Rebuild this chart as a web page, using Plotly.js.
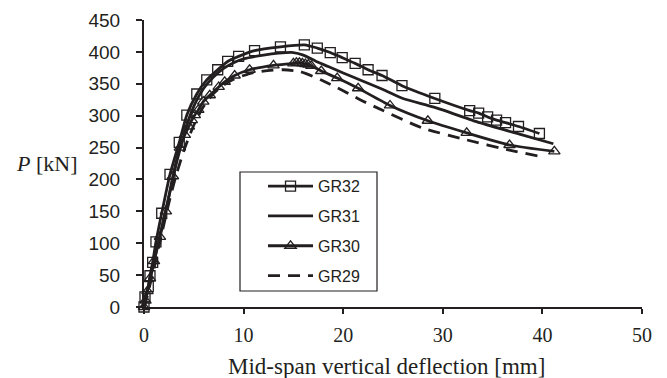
<!DOCTYPE html>
<html><head><meta charset="utf-8">
<script src="https://cdn.plot.ly/plotly-3.0.1.min.js"></script>
<style>html,body{margin:0;padding:0;background:#fff;}#chart{width:667px;height:378px;}</style>
</head><body><div id="chart"></div>
<script>
// Mid-span vertical deflection [mm] and load P [kN]
const gr32_x = [0,0.1,0.43,0.6,0.87,1.2,1.78,2.61,3.54,4.3,5.3,6.3,7.4,8.4,9.5,11.1,13.7,16.1,17.4,18.7,19.9,21.2,22.5,23.9,25.9,29.2,32.7,33.6,34.5,35.4,36.3,37.6,39.7];
const gr32_y = [0,16,32,49,70,102,147,208,258,301,334,356,372,385,393,402,408,411,406,399,391,382,372,363,347,327,308,304,298,293,289,283,272];

const gr31_x = [0,0.5,1,1.5,2,2.6,3.2,3.7,4.4,5.1,6,7,8,9,10,12,13.5,15,16,17.3,18.5,20,21.7,24,26,29.2,33.7,37.7,41.1];
const gr31_y = [0,35,70,105,140,180,222,252,290,318,343,361,374,383,389,395,398,399,395,385,377,367,356,341,327,313,289,271,256];

const gr30_x = [0,0.15,0.35,0.6,1.0,1.6,2.2,2.9,3.6,4.1,4.5,4.8,5.1,5.45,5.95,6.6,7.5,8.1,9.1,10.6,13,15.0,15.3,15.6,15.9,16.2,16.5,16.8,17.8,19.4,21.5,24.7,28.5,32.4,36.7,41.2];
const gr30_y = [0,10,25,45,72,110,150,205,250,270,283,293,301,309,322,332,345,353,363,372,379,382,383,383,382,381,380,378,370,359,343,316,292,273,254,244];

const gr29_x = [0,0.3,0.6,1,1.5,2,2.6,3.2,4,5,6,7,8,9,10.6,12,14,15.7,17.8,19.9,21.7,24,27.9,32.4,36.7,39.5];
const gr29_y = [0,15,35,60,95,130,170,205,245,285,315,335,348,357,366,370,372,369,356,340,325,308,281,262,246,237];

const seriesNames = ['GR32','GR31','GR30','GR29'];

const ink = '#231f20';
const lineW = 2.8;

const traces = [
  {x: gr32_x, y: gr32_y, name: seriesNames[0], legendgroup:'a', mode:'lines+markers',
   line:{color:ink,width:lineW,shape:'spline',smoothing:0.6},
   marker:{symbol:'square-open',size:10,color:ink,line:{width:1.3,color:ink}}, cliponaxis:false},
  {x: gr31_x, y: gr31_y, name: seriesNames[1], legendgroup:'b', mode:'lines',
   line:{color:ink,width:lineW,shape:'spline',smoothing:0.6}, cliponaxis:false},
  {x: gr30_x, y: gr30_y, name: seriesNames[2], legendgroup:'c', mode:'lines+markers',
   line:{color:ink,width:lineW,shape:'spline',smoothing:0.6},
   marker:{symbol:'triangle-up-open',size:10,color:ink,line:{width:1.3,color:ink}}, cliponaxis:false},
  {x: gr29_x, y: gr29_y, name: seriesNames[3], legendgroup:'d', mode:'lines',
   line:{color:ink,width:lineW,shape:'spline',smoothing:0.6,dash:'12px,8px'}, cliponaxis:false}
];

const serif = 'Liberation Serif, Times New Roman, serif';
const sans = 'Liberation Sans, Arial, sans-serif';

const layout = {
  width:667, height:378,
  margin:{l:144, r:25, t:20, b:71},
  paper_bgcolor:'#fff', plot_bgcolor:'#fff',
  showlegend:true,
  legend:{x:0.239, y:0.48, xanchor:'left', yanchor:'top', bgcolor:'rgba(0,0,0,0)', borderwidth:0,
          font:{family:sans, size:16, color:ink},
          tracegroupgap:6, itemwidth:45},
  xaxis:{range:[0,50], tickvals:[0,10,20,30,40,50], ticks:'outside', ticklen:5, tickwidth:2, tickcolor:ink,
         showline:true, linecolor:ink, linewidth:2, showgrid:false, zeroline:false,
         ticklabelstandoff:4,
         tickfont:{family:serif, size:20, color:ink}},
  yaxis:{range:[0,450], tickvals:[0,50,100,150,200,250,300,350,400,450], ticks:'outside', ticklen:6, tickwidth:2, tickcolor:ink,
         showline:true, linecolor:ink, linewidth:2, showgrid:false, zeroline:false,
         ticklabelstandoff:12,
         tickfont:{family:sans, size:19, color:ink}},
  shapes:[{type:'rect', xref:'paper', yref:'paper',
           x0:(240-144)/498, x1:(377-144)/498, y0:(307-291)/287, y1:(307-172)/287,
           line:{color:ink,width:1.2}, fillcolor:'rgba(0,0,0,0)'}],
  annotations:[
    {xref:'paper', yref:'paper', x:(47-144)/498, y:(307-163)/287, xanchor:'center', yanchor:'middle',
     showarrow:false, text:'<i>P</i> [kN]', font:{family:serif, size:22, color:ink}},
    {xref:'paper', yref:'paper', x:(386-144)/498, y:(307-366)/287, xanchor:'center', yanchor:'middle',
     showarrow:false, text:'Mid-span vertical deflection [mm]', font:{family:serif, size:23, color:ink}}
  ]
};

Plotly.newPlot('chart', traces, layout, {displayModeBar:false, staticPlot:true});
</script>
</body></html>
